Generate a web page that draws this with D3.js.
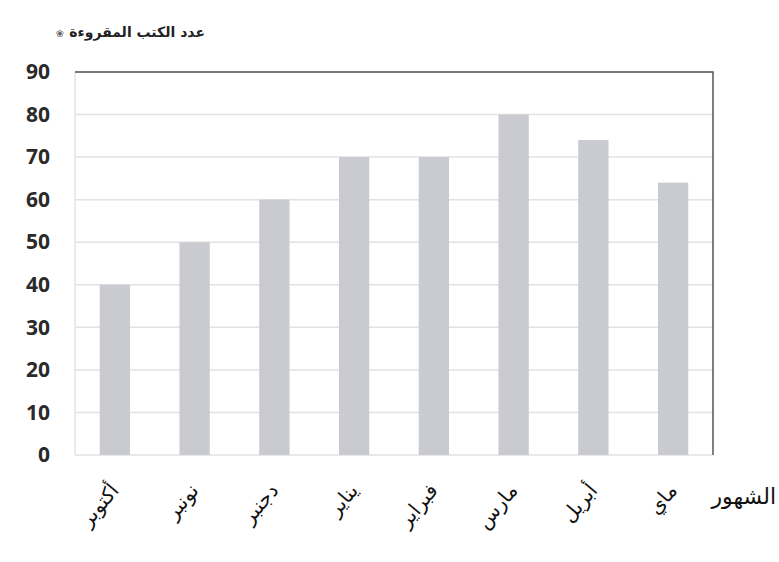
<!DOCTYPE html>
<html>
<head>
<meta charset="utf-8">
<script src="https://cdn.jsdelivr.net/npm/d3@7"></script>
<style>
  body { margin: 0; background: #fff; }
  svg { display: block; }
</style>
</head>
<body>
<svg id="chart" width="779" height="562"></svg>
<script>
// data
const months = ['أكتوبر', 'نونبر', 'دجنبر', 'يناير', 'فبراير', 'مارس', 'أبريل', 'ماي'];
const books = [40, 50, 60, 70, 70, 80, 74, 64];
const yTicks = [0, 10, 20, 30, 40, 50, 60, 70, 80, 90];
const yTitle = 'عدد الكتب المقروءة';
const xTitle = 'الشهور';

const svg = d3.select('#chart');
const plotL = 75, plotR = 713, plotT = 72, plotB = 455;

// scales
const x = d3.scaleBand().domain(months).range([plotL, plotR]).paddingInner(0.62).paddingOuter(0.31);
const y = d3.scaleLinear().domain([0, 90]).range([plotB, plotT]);

// grid lines
svg.append('g')
  .selectAll('line')
  .data(yTicks)
  .enter()
  .append('line')
  .attr('x1', plotL)
  .attr('x2', plotR)
  .attr('y1', d => y(d))
  .attr('y2', d => y(d))
  .attr('stroke', '#e2e2e2')
  .attr('stroke-width', 1.5);

// left edge, light
svg.append('line')
  .attr('x1', plotL).attr('x2', plotL)
  .attr('y1', plotT).attr('y2', plotB)
  .attr('stroke', '#e4e4e4').attr('stroke-width', 1.5);

// bars
svg.append('g')
  .selectAll('rect')
  .data(books)
  .enter()
  .append('rect')
  .attr('x', (d, i) => x(months[i]))
  .attr('y', d => y(d))
  .attr('width', x.bandwidth())
  .attr('height', d => y(0) - y(d))
  .attr('fill', '#cacbd1');

// dark top and right borders
svg.append('path')
  .attr('d', `M${plotL},${plotT}H${plotR}V${plotB}`)
  .attr('fill', 'none')
  .attr('stroke', '#555')
  .attr('stroke-width', 1.5);

// y axis labels
const yAxis = svg.append('g')
  .attr('transform', `translate(${plotL - 25},0)`)
  .call(d3.axisLeft(y).tickValues(yTicks).tickSize(0).tickPadding(0));
yAxis.select('.domain').remove();
yAxis.selectAll('text')
  .attr('font-family', '"Open Sans", "DejaVu Sans", sans-serif')
  .attr('font-weight', 'bold')
  .attr('font-size', 21)
  .attr('fill', '#2a2a2a');

// x axis labels
const xAxis = svg.append('g')
  .attr('transform', `translate(0,${plotB})`)
  .call(d3.axisBottom(x).tickSize(0).tickPadding(0));
xAxis.select('.domain').remove();
xAxis.selectAll('text')
  .attr('font-family', '"DejaVu Sans", sans-serif')
  .attr('font-size', 20)
  .attr('fill', '#111')
  .attr('text-anchor', 'end')
  .attr('dy', 0)
  .attr('transform', 'translate(5,36) rotate(-50)');

// titles
svg.append('text')
  .attr('x', 205)
  .attr('y', 37)
  .attr('text-anchor', 'end')
  .attr('font-family', '"DejaVu Sans", sans-serif')
  .attr('font-weight', 'bold')
  .attr('font-size', 14)
  .attr('fill', '#222')
  .text(yTitle);

svg.append('text')
  .attr('x', 60)
  .attr('y', 37)
  .attr('text-anchor', 'middle')
  .attr('font-family', '"DejaVu Sans", sans-serif')
  .attr('font-size', 10)
  .attr('fill', '#666')
  .text('❀');

svg.append('text')
  .attr('x', 776)
  .attr('y', 504)
  .attr('text-anchor', 'end')
  .attr('font-family', '"DejaVu Sans", sans-serif')
  .attr('font-size', 22)
  .attr('fill', '#111')
  .text(xTitle);
</script>
</body>
</html>
